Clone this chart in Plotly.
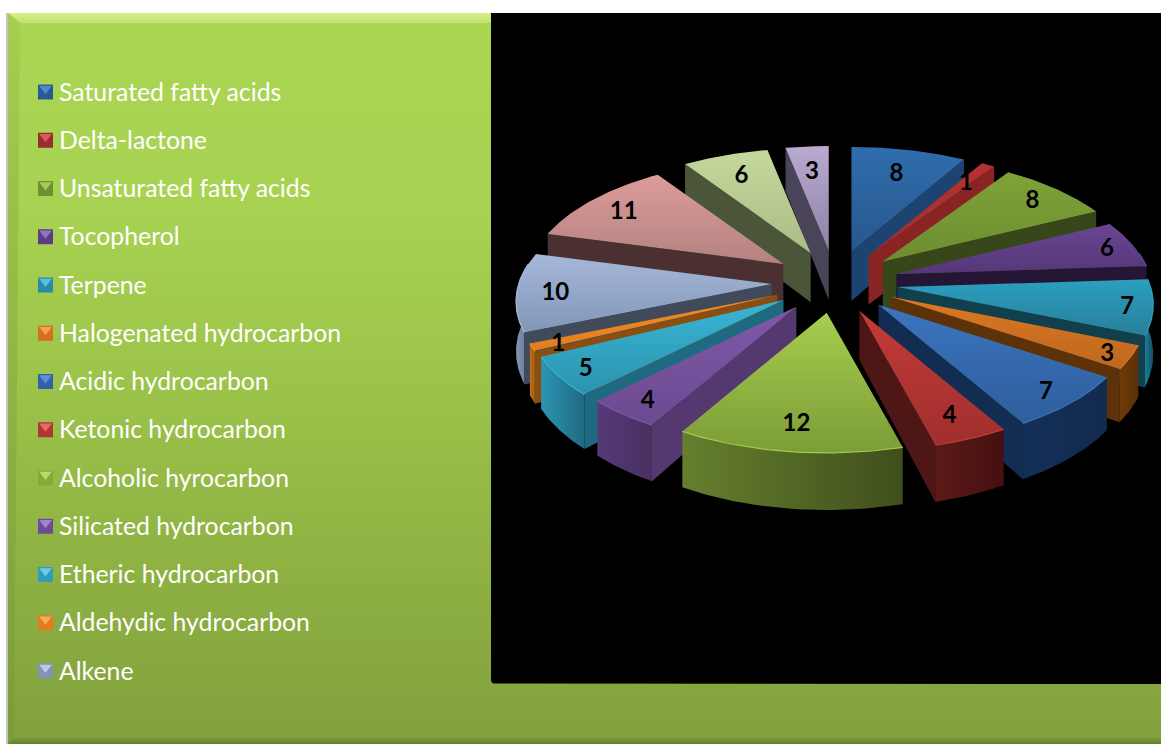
import numpy as np
import plotly.graph_objects as go

# ---------- data ----------
slice_values = [8, 1, 8, 6, 7, 3, 7, 4, 12, 4, 5, 1, 10, 11, 6, 3]
legend_labels = ["Saturated fatty acids", "Delta-lactone", "Unsaturated fatty acids", "Tocopherol",
                 "Terpene", "Halogenated hydrocarbon", "Acidic hydrocarbon", "Ketonic hydrocarbon",
                 "Alcoholic hyrocarbon", "Silicated hydrocarbon", "Etheric hydrocarbon",
                 "Aldehydic hydrocarbon", "Alkene"]

# ---------- styles ----------
top_colors = [("#2f6dad", "#28578c"), ("#b53232", "#a52c2c"), ("#7ea338", "#6d8d30"), ("#6a4595", "#553776"),
              ("#2b9fc0", "#287f99"), ("#dd7820", "#bd6820"), ("#3b74c0", "#2e5e9c"), ("#c43b38", "#9f2f2d"),
              ("#a6ce4f", "#7c9c36"), ("#8058a8", "#6b4a90"), ("#38b5d5", "#2c93ae"), ("#f28c26", "#e07e20"),
              ("#a5b8da", "#8296b8"), ("#dc9c9a", "#b38280"), ("#c5d89d", "#a9bd85"), ("#baaad1", "#8e80a6")]
side_colors = ["#1d4470", "#8a2424", "#38471a", "#241634", "#123f4c", "#5e3208", "#132c52", "#4e1614",
               "#4a6020", "#55386f", "#1f6a80", "#8a4f10", "#404a5a", "#4a3030", "#4b5638", "#4a4458"]
arc_colors = [("#1d4470", "#1d4470"), ("#8a2424", "#8a2424"), ("#38471a", "#38471a"), ("#241634", "#241634"),
              ("#1c7f99", "#124f60"), ("#6e3c0a", "#5a3008"), ("#14305a", "#122a4c"), ("#5a1a18", "#451010"),
              ("#667f2e", "#3f4f1c"), ("#553a78", "#483060"), ("#2c95b4", "#1f6a80"), ("#c0701a", "#9a5a12"),
              ("#8496b4", "#66768f"), ("#4a3030", "#4a3030"), ("#4b5638", "#4b5638"), ("#4a4458", "#4a4458")]
swatch_colors = ["#2a5a96", "#9c2c2c", "#6f8f30", "#5c3c85", "#2a8aa8", "#d47020", "#2f62a8", "#b03533",
                 "#86a83c", "#6e4a98", "#2f9dba", "#e27c20", "#8294b4"]
swatch_light = ["#5f94d8", "#e06a66", "#b4d868", "#a080d0", "#60d0ee", "#f8b060", "#6a9ce4", "#ef7a76",
                "#c4e878", "#b090dc", "#78d8f0", "#fab868", "#c8d4ec"]
label_radius = [0.76, 0.80, 0.85, 0.89, 0.90, 0.91, 0.88, 0.83, 0.81, 0.87, 0.89, 0.90, 0.85, 0.83, 0.79, 0.75]

W, H = 1161, 744
CX, CY = 835, 282          # centre of the exploded pie
PULL_X, PULL_K = 63.5, 0.49
RX, DEPTH, PERSP = 253, 120, 0.1429
WALL = 49

fig = go.Figure()


def poly(x, y, scale=None, color=None, kind="vertical"):
    # plotly's vertical gradient runs from the bottom of the screen here, so top-first lists are flipped
    if scale is not None and kind == "vertical":
        scale = list(scale)[::-1]
    kw = dict(fillcolor=color) if scale is None else dict(
        fillgradient=dict(type=kind, colorscale=[[i / (len(scale) - 1), c] for i, c in enumerate(scale)]))
    fig.add_trace(go.Scatter(x=list(x), y=list(y), mode="lines", fill="toself", line=dict(width=0),
                             hoverinfo="skip", showlegend=False, **kw))


def project(theta, r, tip, z=0.0):
    u, v = r * np.sin(theta), -r * np.cos(theta)
    s = 1 / (1 - PERSP * v)
    return tip[0] + RX * u * s, tip[1] + DEPTH * v * s + z * WALL * s


# ---------- frame ----------
poly([8, W, W, 8], [13, 13, H, H], scale=["#aad654", "#a8d352", "#9cc44a", "#8fb243", "#82a03c"])
poly([8, W, W, 20], [13, 13, 23, 23], scale=["#d6ef8e", "#bfe36c"])
poly([8, 20, 14, 8], [13, 23, 738, H], scale=["#a4cf50", "#7c9a39"])
poly([8, W, W, 14], [H, H, 738, 738], scale=["#7b9838", "#657f2e"])
fig.add_trace(go.Scatter(x=[7, 7], y=[13, H], mode="lines", line=dict(color="#c4c4c4", width=2),
                         hoverinfo="skip", showlegend=False))

# black plot panel with a small rounded corner
corner = np.radians(np.arange(90, 181, 15))
px = np.r_[491, W, W, 495 + 4 * np.cos(corner)]
py = np.r_[13, 13, 684, 680 + 4 * np.sin(corner)]
poly(px, py, color="#000000")

# ---------- pie ----------
vals = np.array(slice_values, dtype=float)
edges = np.r_[0, np.cumsum(vals)] / vals.sum() * 2 * np.pi
mids = (edges[:-1] + edges[1:]) / 2
tips = [(CX + PULL_X * np.sin(m), CY - PULL_X * PULL_K * np.cos(m)) for m in mids]
order = sorted(range(len(vals)), key=lambda i: -np.cos(mids[i]))

for i in order:
    a0, a1 = edges[i], edges[i + 1]
    tip = tips[i]
    # radial faces
    for ang, vis in ((a0, -np.sin(a0) > 0), (a1, np.sin(a1) > 0)):
        if vis:
            x1, y1 = project(ang, 1, tip)
            x2, y2 = project(ang, 1, tip, 1)
            poly([tip[0], x1, x2, tip[0]], [tip[1], y1, y2, tip[1] + WALL], color=side_colors[i])
    # outer wall
    lo, hi = max(a0, np.radians(80)), min(a1, np.radians(280))
    if hi > lo:
        th = np.linspace(lo, hi, 40)
        xt, yt = project(th, 1, tip)
        xb, yb = project(th, 1, tip, 1)
        poly(np.r_[xt, xb[::-1]], np.r_[yt, yb[::-1]], scale=list(arc_colors[i]), kind="horizontal")
    # top face
    th = np.linspace(a0, a1, 50)
    xa, ya = project(th, 1, tip)
    poly(np.r_[tip[0], xa], np.r_[tip[1], ya], scale=list(top_colors[i]))
    # light rim on the front of the arc
    if hi > lo:
        th = np.linspace(lo, hi, 40)
        xt, yt = project(th, 1, tip)
        fig.add_trace(go.Scatter(x=xt, y=yt, mode="lines", line=dict(color=top_colors[i][0], width=1.2),
                                 hoverinfo="skip", showlegend=False))

# data labels
lx, ly = [], []
for i, m in enumerate(mids):
    x, y = project(m, label_radius[i], tips[i])
    lx.append(float(x))
    ly.append(float(y) + 3)
fig.add_trace(go.Scatter(x=lx, y=ly, mode="text", text=[str(int(v)) for v in slice_values],
                         textposition="middle center",
                         textfont=dict(family="Lato", size=24, color="#000000", weight="bold"),
                         hoverinfo="skip", showlegend=False))

# ---------- legend ----------
row0, step, n = 92, 48.25, len(legend_labels)
rows = [row0 + step * k for k in range(n)]
fig.add_trace(go.Scatter(x=[45.5] * n, y=rows, mode="markers", hoverinfo="skip", showlegend=False,
                         marker=dict(symbol="square", size=15, color=swatch_colors, line=dict(width=0))))
fig.add_trace(go.Scatter(x=[45.5] * n, y=[r - 3.5 for r in rows], mode="markers", hoverinfo="skip", showlegend=False,
                         marker=dict(symbol="triangle-down", size=11, color=swatch_light, opacity=0.8,
                                     line=dict(width=0))))
fig.add_trace(go.Scatter(x=[59] * n, y=[r + 2.5 for r in rows], mode="text", text=legend_labels,
                         textposition="middle right",
                         textfont=dict(family="Lato", size=24.8, color="#ffffff"),
                         hoverinfo="skip", showlegend=False))

fig.update_layout(
    width=W, height=H, margin=dict(l=0, r=0, t=0, b=0), autosize=False,
    paper_bgcolor="#ffffff", plot_bgcolor="#ffffff", showlegend=False,
    xaxis=dict(range=[0, W], visible=False, fixedrange=True),
    yaxis=dict(range=[H, 0], visible=False, fixedrange=True),
)
fig.write_html("out.html", config=dict(displayModeBar=False),
               post_script="document.body.style.margin='0';document.documentElement.style.overflow='hidden';")
